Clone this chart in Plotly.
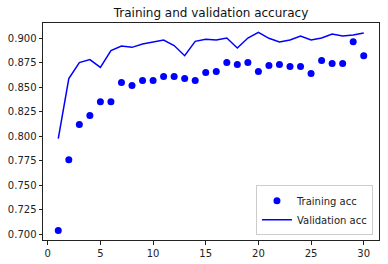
import plotly.graph_objects as go

epochs = list(range(1, 31))
train_acc = [0.704, 0.776, 0.812, 0.821, 0.835, 0.835, 0.8546, 0.8516, 0.8566, 0.8566,
             0.8607, 0.8607, 0.8587, 0.8566, 0.8648, 0.8658, 0.875, 0.873, 0.875, 0.8658,
             0.872, 0.873, 0.871, 0.871, 0.8638, 0.877, 0.874, 0.874, 0.8963, 0.882]
val_acc = [0.7975, 0.8587, 0.875, 0.878, 0.870, 0.8872, 0.8919, 0.8905, 0.8939, 0.896,
           0.898, 0.8923, 0.882, 0.8966, 0.8987, 0.898, 0.900, 0.8898, 0.900, 0.9058,
           0.8997, 0.896, 0.898, 0.902, 0.898, 0.900, 0.904, 0.902, 0.903, 0.905]
y_ticks = [0.700, 0.725, 0.750, 0.775, 0.800, 0.825, 0.850, 0.875, 0.900]
x_ticks = [0, 5, 10, 15, 20, 25, 30]

fig = go.Figure()
fig.add_trace(go.Scatter(x=epochs, y=train_acc, mode="markers", name="Training acc",
                         marker=dict(color="#0000ff", size=7)))
fig.add_trace(go.Scatter(x=epochs, y=val_acc, mode="lines", name="Validation acc",
                         line=dict(color="#0000ff", width=1.5)))

font = "DejaVu Sans"
axis_common = dict(showline=True, linecolor="#222", linewidth=1, mirror=True,
                   ticks="outside", ticklen=3.5, tickcolor="#222", showgrid=False,
                   zeroline=False, automargin=False,
                   tickfont=dict(family=font, size=10, color="#222"))

fig.update_layout(
    width=388, height=264,
    margin=dict(l=43, r=9, t=23, b=24),
    paper_bgcolor="white", plot_bgcolor="white",
    title=dict(text="Training and validation accuracy", x=(43 + 379) / 2 / 388, xanchor="center",
               y=1 - 13 / 264, yanchor="middle", font=dict(family=font, size=12, color="#111")),
    xaxis=dict(range=[-0.45, 31.45], tickvals=x_ticks, **axis_common),
    yaxis=dict(range=[0.6942, 0.9153], tickvals=y_ticks, tickformat=".3f", **axis_common),
    legend=dict(x=0.982, y=0.022, xanchor="right", yanchor="bottom",
                bgcolor="rgba(255,255,255,0.8)", bordercolor="#ccc", borderwidth=1,
                font=dict(family=font, size=10, color="#222"), tracegroupgap=0,
                itemwidth=30),
    showlegend=True,
)

fig.write_html("out.html")
